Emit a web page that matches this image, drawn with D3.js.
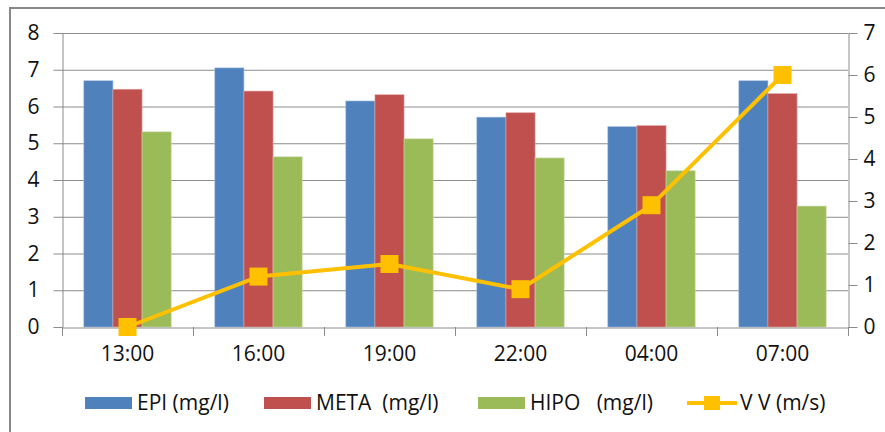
<!DOCTYPE html>
<html><head><meta charset="utf-8">
<script src="https://cdn.jsdelivr.net/npm/d3@7"></script>
<style>body{margin:0;background:#fff}svg{display:block}text{font-family:"Open Sans",sans-serif;fill:#111;white-space:pre}</style>
</head><body><svg id="c" width="885" height="432"></svg>
<script>
const categories = ["13:00","16:00","19:00","22:00","04:00","07:00"];
const epi  = [6.70, 7.05, 6.15, 5.71, 5.45, 6.70];
const meta = [6.47, 6.42, 6.32, 5.83, 5.48, 6.35];
const hipo = [5.31, 4.63, 5.12, 4.60, 4.25, 3.29];
const vv   = [0.0, 1.2, 1.5, 0.9, 2.9, 6.0];
const seriesNames = ["EPI (mg/l)", "META  (mg/l)", "HIPO   (mg/l)", "V V (m/s)"];
const leftTicks = [0,1,2,3,4,5,6,7,8];
const rightTicks = [0,1,2,3,4,5,6,7];

const colors = ["#4F81BD","#C0504D","#9BBB59","#FFC000"];
const FS = 21;
const svg = d3.select("#c");
const L = 62, R = 848, T = 33, B = 327;

svg.append("rect").attr("x",10).attr("y",8).attr("width",900).attr("height",450)
  .attr("fill","#fff").attr("stroke","#888").attr("stroke-width",2);

const x = d3.scaleBand().domain(categories).range([L,R]);
const yL = d3.scaleLinear().domain([0,8]).range([B,T]);
const yR = d3.scaleLinear().domain([0,7]).range([B,T]);
const bw = x.bandwidth()/4.5;
const xs = d3.scaleBand().domain([0,1,2]).range([(x.bandwidth()-3*bw)/2,(x.bandwidth()+3*bw)/2]);

// gridlines
svg.append("g").selectAll("line").data(leftTicks.slice(1)).join("line")
  .attr("x1",L).attr("x2",R).attr("y1",d=>yL(d)+0.5).attr("y2",d=>yL(d)+0.5)
  .attr("stroke","#8c8c8c").attr("stroke-width",1);

// left axis
const gl = svg.append("g").attr("transform",`translate(${L+0.5},0)`)
  .call(d3.axisLeft(yL).tickValues(leftTicks).tickFormat(d3.format("d")).tickSize(9).tickPadding(14).tickSizeOuter(0));
// right axis
const gr = svg.append("g").attr("transform",`translate(${R+0.5},0)`)
  .call(d3.axisRight(yR).tickValues(rightTicks).tickFormat(d3.format("d")).tickSize(9).tickPadding(6).tickSizeOuter(0));
[gl,gr].forEach(g=>{
  g.select(".domain").attr("stroke","#8c8c8c");
  g.selectAll(".tick line").attr("stroke","#8c8c8c");
  g.selectAll(".tick text").attr("font-size",FS).attr("font-family","Open Sans").attr("fill","#111");
});

// bars
const sets = [epi, meta, hipo];
const strokes = ["#9fb8dc","#e0a3a1","#c6d9a6"];
sets.forEach((vals,si)=>{
  svg.append("g").selectAll("rect").data(vals).join("rect")
    .attr("x",(d,i)=>x(categories[i])+xs(si))
    .attr("width",bw)
    .attr("y",d=>yL(d)).attr("height",d=>yL(0)-yL(d))
    .attr("fill",colors[si]).attr("stroke",strokes[si]).attr("stroke-width",0.6);
});

// bottom axis
const gb = svg.append("g").attr("transform",`translate(0,${B+0.5})`)
  .call(d3.axisBottom(x).tickSize(0).tickPadding(19).tickSizeOuter(0));
gb.select(".domain").attr("stroke","#8c8c8c");
gb.selectAll(".tick text").attr("font-size",FS).attr("font-family","Open Sans").attr("fill","#111");
svg.append("g").selectAll("line").data(categories.concat(["end"])).join("line")
  .attr("x1",(d,i)=>L+i*x.step()+0.5).attr("x2",(d,i)=>L+i*x.step()+0.5)
  .attr("y1",B).attr("y2",B+9).attr("stroke","#8c8c8c");

// line
const line = d3.line().x((d,i)=>x(categories[i])+x.bandwidth()/2).y(d=>yR(d));
svg.append("path").datum(vv).attr("d",line).attr("fill","none")
  .attr("stroke",colors[3]).attr("stroke-width",4).attr("stroke-linejoin","round");
svg.append("g").selectAll("rect").data(vv).join("rect")
  .attr("x",(d,i)=>x(categories[i])+x.bandwidth()/2-9).attr("y",d=>yR(d)-9)
  .attr("width",18).attr("height",18).attr("fill",colors[3]);

// legend
const ly = 403;
const legX = [85, 264, 478, 687];
const lg = svg.append("g");
seriesNames.forEach((n,i)=>{
  if(i<3){
    lg.append("rect").attr("x",legX[i]).attr("y",ly-6).attr("width",47).attr("height",12).attr("fill",colors[i]);
    lg.append("text").attr("x",legX[i]+52).attr("y",ly).attr("dy","0.35em").attr("font-size",FS).text(n);
  } else {
    lg.append("line").attr("x1",legX[i]).attr("x2",legX[i]+50).attr("y1",ly).attr("y2",ly)
      .attr("stroke",colors[3]).attr("stroke-width",4);
    lg.append("rect").attr("x",legX[i]+25-8).attr("y",ly-7).attr("width",16).attr("height",14).attr("fill",colors[3]);
    lg.append("text").attr("x",legX[i]+53).attr("y",ly).attr("dy","0.35em").attr("font-size",FS).text(n);
  }
});
</script></body></html>
